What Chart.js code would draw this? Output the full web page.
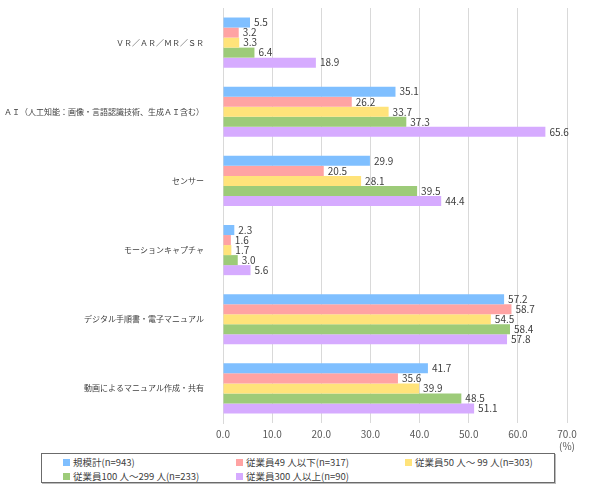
<!DOCTYPE html>
<html>
<head>
<meta charset="utf-8">
<script src="https://cdn.jsdelivr.net/npm/chart.js@4"></script>
<style>
  body { margin: 0; background: #fff; font-family: "Noto Sans CJK JP", sans-serif; }
  #wrap { position: relative; width: 590px; height: 453px; }
  #legend {
    position: absolute; left: 41px; top: 453px; width: 512px; height: 28px;
    border: 1px solid #6b6b6b; box-shadow: 1px 1px 0 #bbb;
    font-size: 9.5px; color: #404040;
  }
  #legend span.item { position: absolute; white-space: nowrap; line-height: 12px; }
  #legend span.box { display: inline-block; width: 7px; height: 7px; margin-right: 3px; vertical-align: 0px; }
</style>
</head>
<body>
<div id="wrap"><canvas id="barChart"></canvas></div>
<div id="legend"></div>
<script>
const categories = [
    'ＶＲ／ＡＲ／ＭＲ／ＳＲ',
    'ＡＩ（人工知能：画像・言語認識技術、生成ＡＩ含む）',
    'センサー',
    'モーションキャプチャ',
    'デジタル手順書・電子マニュアル',
    '動画によるマニュアル作成・共有'
];
const seriesNames = [
    '規模計(n=943)',
    '従業員49 人以下(n=317)',
    '従業員50 人～ 99 人(n=303)',
    '従業員100 人～299 人(n=233)',
    '従業員300 人以上(n=90)'
];
const total      = [5.5, 35.1, 29.9, 2.3, 57.2, 41.7];
const under49    = [3.2, 26.2, 20.5, 1.6, 58.7, 35.6];
const from50     = [3.3, 33.7, 28.1, 1.7, 54.5, 39.9];
const from100    = [6.4, 37.3, 39.5, 3.0, 58.4, 48.5];
const over300    = [18.9, 65.6, 44.4, 5.6, 57.8, 51.1];
const xTicks = ['0.0', '10.0', '20.0', '30.0', '40.0', '50.0', '60.0', '70.0'];
const colors = ['#7fbfff', '#ffa3a3', '#ffe37a', '#9dcb79', '#d6abff'];

const seriesValues = [total, under49, from50, from100, over300];

// value labels at the end of each bar
const barLabels = {
    id: 'barLabels',
    afterDatasetsDraw(chart) {
        const ctx = chart.ctx;
        ctx.save();
        ctx.font = '10px "Noto Sans CJK JP", sans-serif';
        ctx.fillStyle = '#404040';
        ctx.textBaseline = 'middle';
        chart.data.datasets.forEach((ds, i) => {
            chart.getDatasetMeta(i).data.forEach((bar, j) => {
                ctx.fillText(ds.data[j].toFixed(1), bar.x + 4, bar.y);
            });
        });
        ctx.restore();
    }
};

const ctx = document.getElementById('barChart');

new Chart(ctx, {
    type: 'bar',
    data: {
        labels: categories,
        datasets: seriesValues.map((vals, i) => ({
            label: seriesNames[i],
            data: vals,
            backgroundColor: colors[i],
            borderWidth: 0,
            barPercentage: 1,
            categoryPercentage: 0.725
        }))
    },
    options: {
        indexAxis: 'y',
        responsive: true,
        maintainAspectRatio: false,
        animation: false,
        layout: { padding: { top: 8, right: 23, left: 0, bottom: 0 } },
        plugins: {
            legend: { display: false },
            tooltip: { enabled: false }
        },
        scales: {
            x: {
                min: 0,
                max: 70,
                ticks: {
                    stepSize: 10,
                    color: '#595959',
                    font: { size: 10, family: '"Noto Sans CJK JP", sans-serif' },
                    padding: 5,
                    callback: (v, i) => i === xTicks.length - 1 ? [xTicks[i], '(%)'] : xTicks[i]
                },
                grid: { color: '#d9d9d9', drawTicks: false },
                border: { display: false },
                afterFit: (scale) => {
                    scale.height = 30;
                    scale.paddingLeft = 0;
                    scale.paddingRight = 0;
                }
            },
            y: {
                ticks: {
                    color: '#404040',
                    font: { size: 8, family: '"Noto Sans CJK JP", sans-serif' },
                    padding: 11
                },
                grid: { display: false },
                border: { color: '#d9d9d9' },
                afterFit: (scale) => {
                    scale.width = 223;
                    scale.paddingTop = 0;
                    scale.paddingBottom = 0;
                }
            }
        }
    },
    plugins: [barLabels]
});

// legend box, three columns
const legendPos = [[21, 2], [194, 2], [363, 2], [21, 16], [194, 16]];
const legend = document.getElementById('legend');
seriesNames.forEach((name, i) => {
    const item = document.createElement('span');
    item.className = 'item';
    item.style.left = legendPos[i][0] + 'px';
    item.style.top = legendPos[i][1] + 'px';
    item.innerHTML = '<span class="box" style="background:' + colors[i] + '"></span>' + name;
    legend.appendChild(item);
});
</script>
</body>
</html>
